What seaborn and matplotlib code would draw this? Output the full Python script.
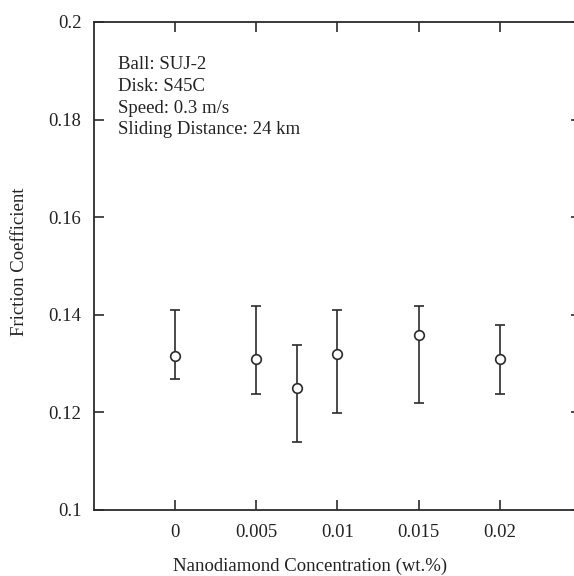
import numpy as np
import pandas as pd
import seaborn as sns
import matplotlib.pyplot as plt

# data
conc = [0.0, 0.005, 0.0075, 0.01, 0.015, 0.02]
mu = [0.1316, 0.1310, 0.1249, 0.1319, 0.1358, 0.1310]
mu_hi = [0.1410, 0.1419, 0.1339, 0.1410, 0.1418, 0.1380]
mu_lo = [0.1269, 0.1238, 0.1139, 0.1199, 0.1219, 0.1238]

xticks = [0, 0.005, 0.01, 0.015, 0.02]
xticklabels = ["0", "0.005", "0.01", "0.015", "0.02"]
yticks = [0.1, 0.12, 0.14, 0.16, 0.18, 0.2]
yticklabels = ["0.1", "0.12", "0.14", "0.16", "0.18", "0.2"]
notes = ["Ball: SUJ-2", "Disk: S45C", "Speed: 0.3 m/s", "Sliding Distance: 24 km"]

df = pd.DataFrame({"conc": conc, "mu": mu})

sns.set_style("ticks")
plt.rcParams['font.family'] = ['Liberation Serif', 'DejaVu Serif']
ink = "#2b2b2b"
fs = 13.5

fig = plt.figure(figsize=(5.74, 5.76), dpi=100)
# right spine sits just past the image edge, like the reference crop
ax = fig.add_axes([94/574, 1-510/576, 487/574, 488/576])

yerr = np.array([np.array(mu) - np.array(mu_lo), np.array(mu_hi) - np.array(mu)])
ax.errorbar(conc, mu, yerr=yerr, fmt="none", ecolor=ink, elinewidth=1.2,
            capsize=3.3, capthick=1.2, zorder=2)
sns.scatterplot(data=df, x="conc", y="mu", ax=ax, marker="o", s=48,
                facecolor="white", edgecolor=ink, linewidth=1.2, zorder=3)

ax.set_xlim(-0.005, 0.025)
ax.set_ylim(0.1, 0.2)
ax.set_xticks(xticks)
ax.set_xticklabels(xticklabels)
ax.set_yticks(yticks)
ax.set_yticklabels(yticklabels)
ax.tick_params(direction="in", top=True, right=True, length=7, width=1.2,
               color=ink, labelsize=fs, labelcolor="#222222")
ax.tick_params(axis="x", pad=10)
ax.tick_params(axis="y", pad=9)
for s in ax.spines.values():
    s.set_color(ink)
    s.set_linewidth(1.3)

ax.set_xlabel("Nanodiamond Concentration (wt.%)", fontsize=fs, color="#222222")
ax.set_ylabel("Friction Coefficient", fontsize=fs, color="#222222")
ax.xaxis.set_label_coords(0.444, -0.098)
ax.yaxis.set_label_coords(-0.136, 0.508)

ax.text(0.05, 0.93, "\n".join(notes), transform=ax.transAxes, fontsize=fs,
        va="top", ha="left", color="#222222", linespacing=1.36)

fig.savefig("out.png", dpi=100)
